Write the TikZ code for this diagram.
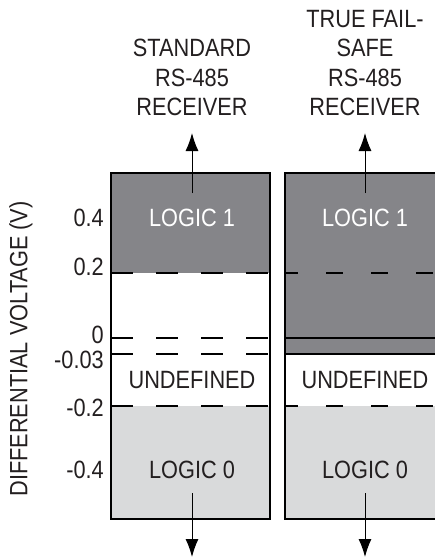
\documentclass[tikz,border=0pt]{standalone}
\usepackage{fontspec}
\setmainfont[FakeStretch=0.87]{Liberation Sans}
\usetikzlibrary{arrows.meta}
\definecolor{logichigh}{RGB}{133,133,137}
\definecolor{logiclow}{RGB}{217,218,219}
\definecolor{ink}{RGB}{35,31,32}

\begin{document}
\begin{tikzpicture}[x=1pt, y=-1pt, font=\fontsize{25}{29.5}\selectfont]
    \tikzset{>={Latex[length=18pt,width=13pt]}}
    \tikzset{lbl/.style={text=ink, align=center, inner sep=0pt},
             tick/.style={text=ink, anchor=east, inner sep=0pt},
             level/.style={line width=1.4pt, dash pattern=on 22pt off 23pt},
             levelr/.style={line width=1.4pt, dash pattern=on 17pt off 28pt, dash phase=4pt}}
    \useasboundingbox (0,0) rectangle (435,557);

    % standard receiver
    \fill[logichigh] (111,173) rectangle (270,273);
    \fill[logiclow] (111,406) rectangle (270,519);
    \draw[level] (111,273) -- (270,273);
    \draw[level] (111,338) -- (270,338);
    \draw[level] (111,354) -- (270,354);
    \draw[level] (111,406) -- (270,406);
    \draw[line width=1.3pt] (111,173) rectangle (270,519);

    % true fail-safe receiver
    \fill[logichigh] (285,173) rectangle (435,354);
    \fill[logiclow] (285,406) rectangle (435,519);
    \draw[levelr] (285,273) -- (435,273);
    \draw[line width=1.4pt] (285,338) -- (435,338);
    \draw[line width=1.4pt] (285,354) -- (435,354);
    \draw[levelr] (285,406) -- (435,406);
    \draw[line width=1.3pt] (435,173) -- (285,173) -- (285,519) -- (435,519);

    % thresholds
    \node[tick] (t1) at (104,218) {0.4};
    \node[tick] (t2) at (104,267) {0.2};
    \node[tick] (t3) at (104,335) {0};
    \node[tick] (t4) at (104,360) {-0.03};
    \node[tick] (t5) at (104,408) {-0.2};
    \node[tick] (t6) at (104,470) {-0.4};
    \node[lbl, rotate=90] (axis) at (21,349) {DIFFERENTIAL VOLTAGE (V)};

    % regions
    \node[lbl, text=white] (hiA) at (192,218) {LOGIC 1};
    \node[lbl, text=white] (hiB) at (365,218) {LOGIC 1};
    \node[lbl] (undA) at (192,380) {UNDEFINED};
    \node[lbl] (undB) at (365,380) {UNDEFINED};
    \node[lbl] (loA) at (192,470) {LOGIC 0};
    \node[lbl] (loB) at (365,470) {LOGIC 0};

    % receiver outputs
    \node[lbl, anchor=south] (std) at (192,116) {STANDARD\\RS-485\\RECEIVER};
    \node[lbl, anchor=south] (tfs) at (365,116) {TRUE FAIL-\\SAFE\\RS-485\\RECEIVER};
    \coordinate (stdin) at (192,193);
    \coordinate (tfsin) at (365,193);
    \coordinate (stdlo) at (192,493);
    \coordinate (tfslo) at (365,493);
    \coordinate (stdout) at (192,557);
    \coordinate (tfsout) at (365,557);
    \draw[->, line width=1pt] (stdin) -- (std.south) [shorten >=17pt];
    \draw[->, line width=1pt] (tfsin) -- (tfs.south) [shorten >=17pt];
    \draw[->, line width=1pt] (stdlo) -- (stdout);
    \draw[->, line width=1pt] (tfslo) -- (tfsout);
\end{tikzpicture}
\end{document}
